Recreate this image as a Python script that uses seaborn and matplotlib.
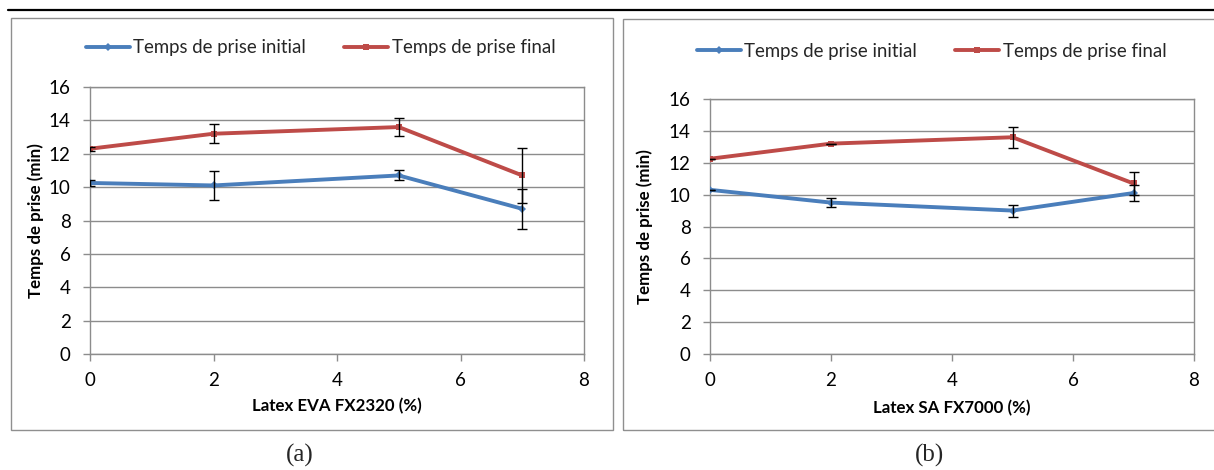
import numpy as np
import pandas as pd
import seaborn as sns
import matplotlib
matplotlib.use("Agg")
import matplotlib.pyplot as plt
from matplotlib.patches import Rectangle
from matplotlib.lines import Line2D

# ---------------- data ----------------
latex_pct = [0, 2, 5, 7]

# (a) Latex EVA FX2320
a_initial = [10.25, 10.1, 10.7, 8.7]
a_initial_err = [0.18, 0.85, 0.3, 1.2]
a_final = [12.3, 13.2, 13.6, 10.7]
a_final_err = [0.12, 0.57, 0.54, 1.66]

# (b) Latex SA FX7000
b_initial = [10.3, 9.5, 9.0, 10.1]
b_initial_err = [0.0, 0.26, 0.38, 0.5]
b_final = [12.25, 13.2, 13.6, 10.7]
b_final_err = [0.0, 0.0, 0.65, 0.7]

series_names = ["Temps de prise initial", "Temps de prise final"]
xlabels = ["Latex EVA FX2320 (%)", "Latex SA FX7000 (%)"]
ylabel = "Temps de prise (min)"
captions = ["(a)", "(b)"]
xticks = [0, 2, 4, 6, 8]
yticks = [0, 2, 4, 6, 8, 10, 12, 14, 16]

# ---------------- style ----------------
sns.set_theme(style="white")
plt.rcParams["font.family"] = ["Lato", "DejaVu Sans"]

BLUE = "#4A7EBB"
RED = "#BE4B48"
GRID = "#8C8C8C"

W, H = 1214, 470
fig = plt.figure(figsize=(W / 100, H / 100), dpi=100)


def fx(px):
    return px / W


def fy(py):
    return 1 - py / H


# panel frames and top rule (layout)
fig.add_artist(Line2D([fx(8), 1.0], [fy(10), fy(10)], color="black", lw=1.6,
                      transform=fig.transFigure))
fig.add_artist(Rectangle((fx(11), fy(430)), fx(613) - fx(11), fy(18) - fy(430),
                         transform=fig.transFigure, fill=False, ec="#8F8F8F", lw=1.0))
fig.add_artist(Rectangle((fx(623), fy(430)), fx(1225) - fx(623), fy(19) - fy(430),
                         transform=fig.transFigure, fill=False, ec="#8F8F8F", lw=1.0))

panels = [
    dict(rect=(90, 87, 584, 354), ini=a_initial, ini_e=a_initial_err,
         fin=a_final, fin_e=a_final_err, xlabel=xlabels[0],
         ylab_x=44, xlab_y=398, leg=(86, 48), cap=(300, 455), caption=captions[0]),
    dict(rect=(710, 99, 1194, 354), ini=b_initial, ini_e=b_initial_err,
         fin=b_final, fin_e=b_final_err, xlabel=xlabels[1],
         ylab_x=653, xlab_y=400, leg=(697, 51), cap=(930, 455), caption=captions[1]),
]

for p in panels:
    l, t, r, b = p["rect"]
    ax = fig.add_axes([fx(l), fy(b), fx(r) - fx(l), fy(t) - fy(b)])
    df = pd.DataFrame({
        "x": latex_pct * 2,
        "y": list(p["ini"]) + list(p["fin"]),
        "serie": [series_names[0]] * 4 + [series_names[1]] * 4,
    })
    sns.lineplot(data=df, x="x", y="y", hue="serie", style="serie",
                 palette=[BLUE, RED], markers=["D", "s"], dashes=False,
                 markersize=4.5, markeredgewidth=0, linewidth=2.8, ax=ax,
                 legend=True, zorder=3)
    ax.errorbar(latex_pct, p["ini"], yerr=p["ini_e"], fmt="none", ecolor="black",
                elinewidth=1.0, capsize=3.5, capthick=1.0, zorder=4)
    ax.errorbar(latex_pct, p["fin"], yerr=p["fin_e"], fmt="none", ecolor="black",
                elinewidth=1.0, capsize=3.5, capthick=1.0, zorder=4)

    ax.set_xlim(0, 8)
    ax.set_ylim(0, 16)
    ax.set_xticks(xticks)
    ax.set_yticks(yticks)
    ax.set_xticklabels([str(v) for v in xticks])
    ax.set_yticklabels([str(v) for v in yticks])
    ax.yaxis.grid(True, color=GRID, lw=1.0)
    ax.xaxis.grid(False)
    ax.set_axisbelow(True)
    for s in ax.spines.values():
        s.set_color(GRID)
        s.set_linewidth(1.0)
        s.set_visible(True)
    ax.tick_params(axis="both", direction="out", length=5, width=1.0, color=GRID,
                   labelsize=13.5, labelcolor="black")
    ax.tick_params(axis="x", pad=8)
    ax.tick_params(axis="y", pad=9)
    ax.tick_params(bottom=True, left=True)

    ax.set_xlabel(p["xlabel"], fontsize=12.2, fontweight="bold", color="black")
    ax.xaxis.set_label_coords(fx((l + r) / 2), fy(p["xlab_y"]), transform=fig.transFigure)
    ax.set_ylabel(ylabel, fontsize=12.2, fontweight="bold", color="black")
    ax.yaxis.set_label_coords(fx(p["ylab_x"]), fy((t + b) / 2), transform=fig.transFigure)

    handles, labels = ax.get_legend_handles_labels()
    ax.get_legend().remove()
    ax.legend(handles, labels, loc="center left",
              bbox_to_anchor=(fx(p["leg"][0]), fy(p["leg"][1])),
              bbox_transform=fig.transFigure, ncol=2, frameon=False,
              fontsize=13.4, handlelength=2.35, handletextpad=0.2,
              columnspacing=2.05, borderpad=0, borderaxespad=0)

    fig.text(fx(p["cap"][0]), fy(p["cap"][1]), p["caption"], ha="center", va="center",
             fontsize=18, family=["Liberation Serif", "DejaVu Serif"])

fig.savefig("out.png", dpi=100)
